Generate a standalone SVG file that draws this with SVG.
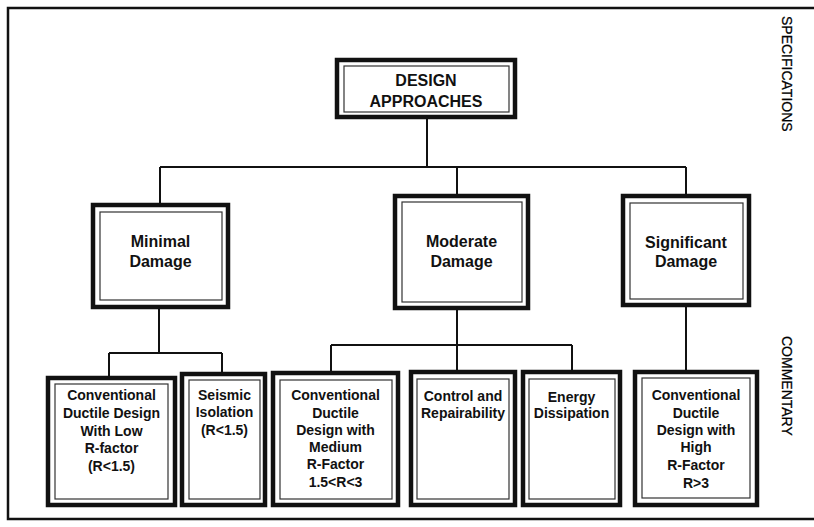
<svg xmlns="http://www.w3.org/2000/svg" width="814" height="527" viewBox="0 0 814 527">
<style>
.outer{fill:#fff;stroke:#111;stroke-width:4.5}
.inner{fill:none;stroke:#333;stroke-width:1.2}
.lbl{font-family:"Liberation Sans",Arial,sans-serif;font-weight:bold;fill:#111;text-anchor:middle}
.big{font-size:16px}
.sm{font-size:14px}
.side{font-family:"Liberation Sans",Arial,sans-serif;font-size:14px;fill:#000;stroke:#000;stroke-width:0.25}
.conn{stroke:#111;stroke-width:2;fill:none}
.frame{stroke:#111;stroke-width:2.5;fill:none}
</style>
<rect width="814" height="527" fill="#fff"/>
<g id="frame">
<path class="frame" d="M814,8 H8 V519 H814"/>
<text class="side" transform="translate(782,16) rotate(90)">SPECIFICATIONS</text>
<text class="side" transform="translate(782,336) rotate(90)">COMMENTARY</text>
</g>
<g id="connectors">
<path class="conn" d="M427,117 V167 M160,167 H686 M160,167 V205 M457,167 V196 M686,167 V196"/>
<path class="conn" d="M159,307 V353 M109,353 H222 M109,353 V378 M222,353 V374"/>
<path class="conn" d="M457,308 V372 M331,345 H572 M331,345 V373 M572,345 V372"/>
<path class="conn" d="M686,305 V372"/>
</g>
<g id="design-approaches">
<rect class="outer" x="337" y="60" width="178" height="57"/>
<rect class="inner" x="344" y="66" width="165" height="46"/>
<text class="lbl big" x="426" y="86">DESIGN</text>
<text class="lbl big" x="426" y="107">APPROACHES</text>
</g>
<g id="minimal-damage">
<rect class="outer" x="93" y="205" width="135" height="102"/>
<rect class="inner" x="100" y="212" width="122" height="88"/>
<text class="lbl big" x="160.5" y="247">Minimal</text>
<text class="lbl big" x="160.5" y="267">Damage</text>
</g>
<g id="moderate-damage">
<rect class="outer" x="395" y="196" width="133" height="112"/>
<rect class="inner" x="402" y="202" width="120" height="100"/>
<text class="lbl big" x="461.5" y="247">Moderate</text>
<text class="lbl big" x="461.5" y="267">Damage</text>
</g>
<g id="significant-damage">
<rect class="outer" x="623" y="196" width="126" height="109"/>
<rect class="inner" x="630" y="203" width="113" height="96"/>
<text class="lbl big" x="686" y="248">Significant</text>
<text class="lbl big" x="686" y="267">Damage</text>
</g>
<g id="conv-low">
<rect class="outer" x="48" y="378" width="127" height="127"/>
<rect class="inner" x="55" y="384" width="113" height="115"/>
<text class="lbl sm" x="111.5" y="400">Conventional</text>
<text class="lbl sm" x="111.5" y="418">Ductile Design</text>
<text class="lbl sm" x="111.5" y="436">With Low</text>
<text class="lbl sm" x="111.5" y="453">R-factor</text>
<text class="lbl sm" x="111.5" y="471">(R&lt;1.5)</text>
</g>
<g id="seismic-isolation">
<rect class="outer" x="182" y="374" width="83" height="131"/>
<rect class="inner" x="189" y="380" width="71" height="119"/>
<text class="lbl sm" x="224.5" y="400">Seismic</text>
<text class="lbl sm" x="224.5" y="417">Isolation</text>
<text class="lbl sm" x="224.5" y="435">(R&lt;1.5)</text>
</g>
<g id="conv-medium">
<rect class="outer" x="273" y="373" width="125" height="132"/>
<rect class="inner" x="280" y="380" width="112" height="119"/>
<text class="lbl sm" x="335.5" y="400">Conventional</text>
<text class="lbl sm" x="335.5" y="418">Ductile</text>
<text class="lbl sm" x="335.5" y="435">Design with</text>
<text class="lbl sm" x="335.5" y="452">Medium</text>
<text class="lbl sm" x="335.5" y="469">R-Factor</text>
<text class="lbl sm" x="335.5" y="487">1.5&lt;R&lt;3</text>
</g>
<g id="control-repairability">
<rect class="outer" x="411" y="372" width="104" height="133"/>
<rect class="inner" x="417" y="379" width="92" height="120"/>
<text class="lbl sm" x="463" y="401">Control and</text>
<text class="lbl sm" x="463" y="418">Repairability</text>
</g>
<g id="energy-dissipation">
<rect class="outer" x="523" y="372" width="97" height="133"/>
<rect class="inner" x="529" y="379" width="86" height="120"/>
<text class="lbl sm" x="571.5" y="402">Energy</text>
<text class="lbl sm" x="571.5" y="418">Dissipation</text>
</g>
<g id="conv-high">
<rect class="outer" x="635" y="372" width="122" height="133"/>
<rect class="inner" x="642" y="378" width="108" height="120"/>
<text class="lbl sm" x="696" y="400">Conventional</text>
<text class="lbl sm" x="696" y="418">Ductile</text>
<text class="lbl sm" x="696" y="435">Design with</text>
<text class="lbl sm" x="696" y="452">High</text>
<text class="lbl sm" x="696" y="470">R-Factor</text>
<text class="lbl sm" x="696" y="488">R&gt;3</text>
</g>
</svg>
